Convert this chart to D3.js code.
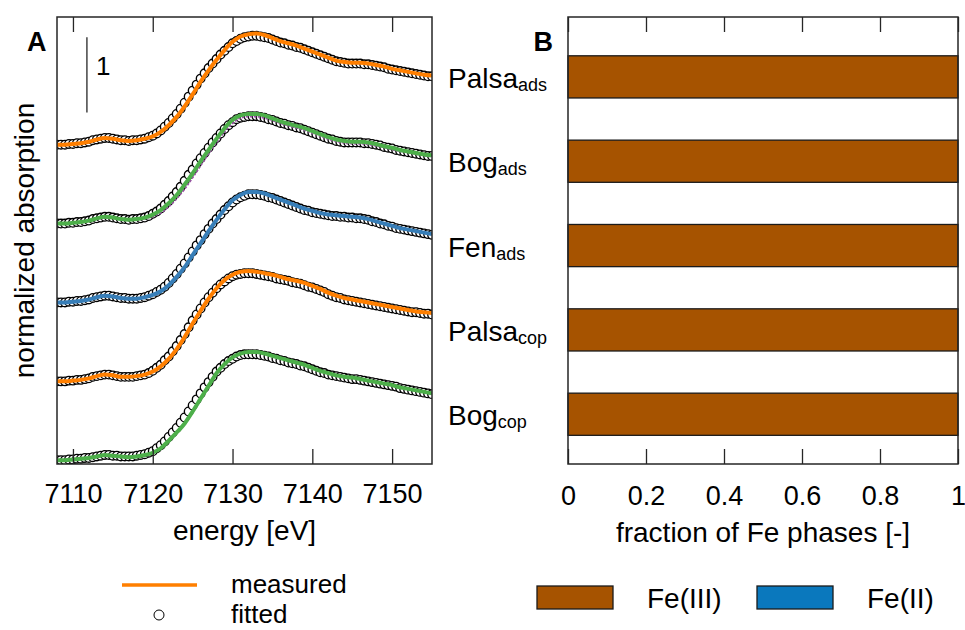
<!DOCTYPE html>
<html>
<head>
<meta charset="utf-8">
<script src="https://cdn.jsdelivr.net/npm/d3@7"></script>
<style>
  body { margin: 0; background: #fff; }
  svg { font-family: "Liberation Sans", Arial, sans-serif; }
</style>
</head>
<body>
<svg id="chart" width="965" height="630"></svg>
<script>
'use strict';
// XANES spectra (A) and Fe phase fractions (B)

// energy grids [eV]
const energyMeas = d3.range(7108, 7155.5, 1);
const energyFit = d3.range(7108, 7155.25, 0.5);
const energyTicks = [7110, 7120, 7130, 7140, 7150];

// sample names, top to bottom
const sampleNames = ['Palsa', 'Bog', 'Fen', 'Palsa', 'Bog'];
const sampleSubs = ['ads', 'ads', 'ads', 'cop', 'cop'];
const curveColors = ['#ff7f00', '#4daf4a', '#377eb8', '#ff7f00', '#4daf4a'];
const offsets = [4.2, 3.15, 2.1, 1.05, 0];

// measured spectra, 1 eV steps
const measPalsaAds = [0.00,0.00,0.01,0.02,0.04,0.07,0.09,0.08,0.06,0.05,
  0.06,0.08,0.11,0.17,0.26,0.37,0.51,0.67,0.84,0.99,
  1.13,1.26,1.37,1.44,1.47,1.48,1.46,1.42,1.38,1.35,
  1.32,1.28,1.24,1.20,1.16,1.12,1.10,1.09,1.09,1.08,
  1.06,1.04,1.01,0.99,0.97,0.95,0.93,0.92];
const measBogAds = [0.00,0.00,0.01,0.02,0.04,0.07,0.09,0.08,0.06,0.05,
  0.06,0.08,0.12,0.18,0.27,0.38,0.52,0.67,0.83,0.98,
  1.13,1.27,1.38,1.44,1.46,1.46,1.44,1.40,1.36,1.33,
  1.30,1.27,1.23,1.19,1.15,1.12,1.10,1.09,1.09,1.08,
  1.06,1.03,1.01,0.98,0.96,0.94,0.92,0.91];
const measFenAds = [0.00,0.00,0.01,0.02,0.04,0.07,0.09,0.08,0.06,0.05,
  0.05,0.07,0.10,0.15,0.23,0.34,0.47,0.63,0.79,0.95,
  1.10,1.24,1.36,1.43,1.47,1.47,1.45,1.41,1.37,1.33,
  1.29,1.25,1.22,1.19,1.17,1.16,1.15,1.14,1.13,1.11,
  1.08,1.05,1.02,0.99,0.97,0.95,0.93,0.91];
const measPalsaCop = [0.00,0.00,0.01,0.02,0.04,0.07,0.09,0.08,0.06,0.06,
  0.07,0.09,0.13,0.20,0.30,0.43,0.59,0.77,0.94,1.10,
  1.24,1.35,1.42,1.46,1.47,1.46,1.44,1.42,1.39,1.36,
  1.34,1.31,1.27,1.23,1.18,1.14,1.11,1.09,1.07,1.05,
  1.03,1.01,0.99,0.97,0.95,0.93,0.92,0.91];
const measBogCop = [0.00,0.00,0.01,0.02,0.03,0.05,0.07,0.06,0.05,0.04,
  0.05,0.07,0.10,0.16,0.26,0.37,0.49,0.65,0.82,0.99,
  1.16,1.28,1.37,1.42,1.44,1.44,1.42,1.39,1.36,1.33,
  1.30,1.27,1.23,1.19,1.16,1.13,1.11,1.10,1.08,1.06,
  1.04,1.02,1.00,0.97,0.95,0.93,0.91,0.89];
// second trace under Bog_ads (purple)
const refBogAds = [0.00,0.00,0.01,0.02,0.04,0.06,0.08,0.08,0.06,0.05,
  0.05,0.07,0.10,0.15,0.23,0.34,0.47,0.62,0.78,0.94,
  1.09,1.23,1.34,1.41,1.43,1.43,1.41,1.38,1.34,1.31,
  1.28,1.25,1.21,1.17,1.13,1.10,1.08,1.07,1.07,1.06,
  1.04,1.02,0.99,0.97,0.95,0.93,0.91,0.90];

// fitted spectra, 0.5 eV steps
const fitPalsaAds = [0.00,0.00,0.00,0.01,0.01,0.02,0.02,0.03,0.04,0.06,
  0.07,0.08,0.09,0.09,0.08,0.07,0.06,0.06,0.05,0.06,
  0.06,0.07,0.08,0.10,0.12,0.15,0.19,0.24,0.29,0.35,
  0.41,0.48,0.56,0.64,0.72,0.80,0.88,0.95,1.02,1.08,
  1.14,1.20,1.25,1.30,1.35,1.38,1.41,1.43,1.44,1.45,
  1.45,1.44,1.43,1.42,1.40,1.38,1.36,1.35,1.33,1.32,
  1.30,1.29,1.27,1.25,1.23,1.21,1.19,1.17,1.15,1.13,
  1.11,1.10,1.09,1.08,1.08,1.08,1.08,1.07,1.07,1.06,
  1.05,1.04,1.03,1.01,1.00,0.99,0.98,0.97,0.96,0.95,
  0.94,0.93,0.92,0.91,0.91];
const fitBogAds = [0.00,0.00,0.00,0.01,0.01,0.02,0.02,0.03,0.04,0.06,
  0.07,0.08,0.09,0.09,0.08,0.07,0.06,0.06,0.05,0.06,
  0.06,0.07,0.08,0.10,0.13,0.16,0.20,0.25,0.30,0.36,
  0.42,0.49,0.57,0.65,0.72,0.80,0.87,0.94,1.01,1.08,
  1.14,1.20,1.26,1.31,1.35,1.39,1.41,1.42,1.43,1.43,
  1.43,1.42,1.41,1.39,1.38,1.36,1.34,1.33,1.31,1.30,
  1.28,1.27,1.25,1.23,1.21,1.19,1.17,1.15,1.13,1.12,
  1.10,1.09,1.08,1.08,1.08,1.08,1.08,1.07,1.07,1.06,
  1.05,1.04,1.02,1.01,1.00,0.98,0.97,0.96,0.95,0.94,
  0.93,0.92,0.91,0.90,0.90];
const fitFenAds = [0.00,0.00,0.00,0.01,0.01,0.02,0.02,0.03,0.04,0.06,
  0.07,0.08,0.09,0.09,0.08,0.07,0.06,0.06,0.05,0.05,
  0.05,0.06,0.07,0.09,0.11,0.14,0.17,0.21,0.26,0.32,
  0.38,0.45,0.52,0.60,0.68,0.76,0.83,0.91,0.98,1.05,
  1.11,1.17,1.23,1.28,1.33,1.37,1.40,1.42,1.44,1.44,
  1.44,1.43,1.42,1.40,1.39,1.37,1.35,1.33,1.31,1.29,
  1.27,1.25,1.23,1.22,1.20,1.19,1.18,1.17,1.16,1.15,
  1.15,1.14,1.14,1.13,1.13,1.12,1.12,1.11,1.10,1.08,
  1.07,1.05,1.04,1.02,1.01,0.99,0.98,0.97,0.96,0.95,
  0.94,0.93,0.92,0.91,0.90];
const fitPalsaCop = [0.00,0.00,0.00,0.01,0.01,0.02,0.02,0.03,0.04,0.06,
  0.07,0.08,0.09,0.09,0.08,0.07,0.06,0.06,0.06,0.06,
  0.07,0.08,0.09,0.11,0.14,0.18,0.22,0.28,0.33,0.40,
  0.47,0.55,0.63,0.72,0.81,0.89,0.97,1.05,1.12,1.18,
  1.24,1.29,1.33,1.37,1.40,1.42,1.43,1.44,1.44,1.44,
  1.43,1.42,1.41,1.40,1.39,1.37,1.36,1.35,1.34,1.32,
  1.31,1.30,1.28,1.26,1.25,1.23,1.21,1.19,1.16,1.14,
  1.12,1.11,1.09,1.08,1.07,1.06,1.05,1.04,1.03,1.02,
  1.01,1.00,0.99,0.98,0.97,0.96,0.95,0.94,0.93,0.92,
  0.92,0.91,0.90,0.90,0.89];
const fitBogCop = [0.00,0.00,0.00,0.01,0.01,0.02,0.02,0.03,0.03,0.04,
  0.05,0.06,0.07,0.07,0.06,0.06,0.05,0.05,0.05,0.05,
  0.06,0.07,0.08,0.10,0.12,0.16,0.20,0.25,0.31,0.37,
  0.43,0.50,0.57,0.65,0.73,0.81,0.89,0.97,1.04,1.11,
  1.18,1.23,1.28,1.32,1.35,1.38,1.40,1.41,1.41,1.41,
  1.41,1.40,1.39,1.38,1.36,1.35,1.33,1.32,1.30,1.29,
  1.28,1.26,1.25,1.23,1.21,1.19,1.17,1.16,1.14,1.13,
  1.12,1.11,1.10,1.09,1.08,1.08,1.07,1.06,1.05,1.04,
  1.03,1.02,1.01,1.00,0.99,0.98,0.96,0.95,0.94,0.93,
  0.92,0.91,0.90,0.89,0.88];

const measured = [measPalsaAds, measBogAds, measFenAds, measPalsaCop, measBogCop];
const fitted = [fitPalsaAds, fitBogAds, fitFenAds, fitPalsaCop, fitBogCop];

// panel B: phase fractions
const fracFeIII = [1, 1, 1, 1, 1];
const fracFeII = [0, 0, 0, 0, 0];
const fracTicks = [0, 0.2, 0.4, 0.6, 0.8, 1];
const phaseNames = ['Fe(III)', 'Fe(II)'];
const phaseColors = ['#a65300', '#0a78bd'];

const svg = d3.select('#chart');
const axisColor = '#262626';

// ---------- panel A ----------
var ax = { left: 57, right: 432, top: 17, bottom: 464 };
var x = d3.scaleLinear().domain([7108, 7155]).range([ax.left, ax.right]);
var y = d3.scaleLinear().domain([-0.05, 5.9]).range([ax.bottom, ax.top]);

svg.append('clipPath').attr('id', 'clipA')
  .append('rect')
  .attr('x', ax.left).attr('y', ax.top)
  .attr('width', ax.right - ax.left).attr('height', ax.bottom - ax.top);

var plotA = svg.append('g').attr('clip-path', 'url(#clipA)');

var lineMeas = d3.line()
  .x(function(d, i) { return x(energyMeas[i]); })
  .curve(d3.curveMonotoneX);

measured.forEach(function(meas, k) {
  var off = offsets[k];
  var g = plotA.append('g');

  g.selectAll('circle')
    .data(fitted[k])
    .enter().append('circle')
    .attr('cx', function(d, i) { return x(energyFit[i]); })
    .attr('cy', function(d) { return y(d + off); })
    .attr('r', 4.3)
    .attr('fill', '#fff')
    .attr('stroke', '#000')
    .attr('stroke-width', 1.35);

  if (k === 1) {
    g.append('path')
      .datum(refBogAds)
      .attr('fill', 'none')
      .attr('stroke', '#984ea3')
      .attr('stroke-width', 2.5)
      .attr('stroke-dasharray', '2.5,1.5')
      .attr('d', lineMeas.y(function(d) { return y(d + off); }));
  }

  g.append('path')
    .datum(meas)
    .attr('fill', 'none')
    .attr('stroke', curveColors[k])
    .attr('stroke-width', 4)
    .attr('d', lineMeas.y(function(d) { return y(d + off); }));
});

// frame + inward ticks
svg.append('rect')
  .attr('x', ax.left).attr('y', ax.top)
  .attr('width', ax.right - ax.left).attr('height', ax.bottom - ax.top)
  .attr('fill', 'none').attr('stroke', axisColor).attr('stroke-width', 1.5);

svg.append('g')
  .attr('transform', 'translate(0,' + ax.bottom + ')')
  .call(d3.axisBottom(x).tickValues(energyTicks).tickSizeInner(-15).tickSizeOuter(0).tickPadding(20)
    .tickFormat(d3.format('d')))
  .call(function(g) {
    g.select('.domain').remove();
    g.selectAll('line').attr('stroke', axisColor).attr('stroke-width', 1.3);
    g.selectAll('text').attr('font-size', 27).attr('fill', '#000')
      .attr('font-family', '"Liberation Sans", Arial, sans-serif');
  });
svg.append('g')
  .attr('transform', 'translate(0,' + ax.top + ')')
  .call(d3.axisTop(x).tickValues(energyTicks).tickSizeInner(-15).tickSizeOuter(0).tickFormat(''))
  .call(function(g) {
    g.select('.domain').remove();
    g.selectAll('line').attr('stroke', axisColor).attr('stroke-width', 1.3);
  });

// scale bar "1"
svg.append('line')
  .attr('x1', x(7111.75)).attr('x2', x(7111.75))
  .attr('y1', y(4.63)).attr('y2', y(5.63))
  .attr('stroke', axisColor).attr('stroke-width', 1.3);
svg.append('text')
  .attr('x', x(7111.75) + 9).attr('y', 75)
  .attr('font-size', 26).text('1');

svg.append('text')
  .attr('x', 27).attr('y', 51)
  .attr('font-size', 27).attr('font-weight', 'bold').text('A');

svg.append('text')
  .attr('x', (ax.left + ax.right) / 2).attr('y', 540)
  .attr('text-anchor', 'middle').attr('font-size', 28)
  .text('energy [eV]');

svg.append('text')
  .attr('transform', 'translate(34,' + (ax.top + ax.bottom) / 2 + ') rotate(-90)')
  .attr('text-anchor', 'middle').attr('font-size', 28)
  .text('normalized absorption');

// legend A
svg.append('line')
  .attr('x1', 122).attr('x2', 197).attr('y1', 585).attr('y2', 585)
  .attr('stroke', curveColors[0]).attr('stroke-width', 3.5);
svg.append('text').attr('x', 231).attr('y', 593).attr('font-size', 26).text('measured');
svg.append('circle').attr('cx', 159).attr('cy', 615).attr('r', 5)
  .attr('fill', 'none').attr('stroke', '#000').attr('stroke-width', 1);
svg.append('text').attr('x', 231).attr('y', 623).attr('font-size', 26).text('fitted');

// ---------- panel B ----------
var bx = { left: 568, right: 958, top: 17, bottom: 464 };
var xb = d3.scaleLinear().domain([0, 1]).range([bx.left, bx.right]);
var yb = d3.scaleLinear().domain([0.29, 5.59]).range([bx.top, bx.bottom]);
var barH = 0.5;

var stacked = sampleNames.map(function(n, i) {
  return [
    { x0: 0, x1: fracFeIII[i], c: phaseColors[0], i: i },
    { x0: fracFeIII[i], x1: fracFeIII[i] + fracFeII[i], c: phaseColors[1], i: i }
  ];
});

svg.append('g').selectAll('rect')
  .data(stacked.flat().filter(function(d) { return d.x1 > d.x0; }))
  .enter().append('rect')
  .attr('x', function(d) { return xb(d.x0); })
  .attr('width', function(d) { return xb(d.x1) - xb(d.x0); })
  .attr('y', function(d) { return yb(d.i + 1 - barH / 2); })
  .attr('height', function(d) { return yb(d.i + 1 + barH / 2) - yb(d.i + 1 - barH / 2); })
  .attr('fill', function(d) { return d.c; })
  .attr('stroke', '#1a1a1a').attr('stroke-width', 1.3);

svg.append('rect')
  .attr('x', bx.left).attr('y', bx.top)
  .attr('width', bx.right - bx.left).attr('height', bx.bottom - bx.top)
  .attr('fill', 'none').attr('stroke', axisColor).attr('stroke-width', 1.5);

svg.append('g')
  .attr('transform', 'translate(0,' + bx.bottom + ')')
  .call(d3.axisBottom(xb).tickValues(fracTicks).tickSizeInner(-15).tickSizeOuter(0).tickPadding(22)
    .tickFormat(function(d) { return d === 0 || d === 1 ? d3.format('d')(d) : d3.format('.1f')(d); }))
  .call(function(g) {
    g.select('.domain').remove();
    g.selectAll('line').attr('stroke', axisColor).attr('stroke-width', 1.3);
    g.selectAll('text').attr('font-size', 27).attr('fill', '#000')
      .attr('font-family', '"Liberation Sans", Arial, sans-serif');
  });
svg.append('g')
  .attr('transform', 'translate(0,' + bx.top + ')')
  .call(d3.axisTop(xb).tickValues(fracTicks).tickSizeInner(-15).tickSizeOuter(0).tickFormat(''))
  .call(function(g) {
    g.select('.domain').remove();
    g.selectAll('line').attr('stroke', axisColor).attr('stroke-width', 1.3);
  });

// sample labels with subscripts
var labels = svg.append('g').selectAll('text')
  .data(sampleNames)
  .enter().append('text')
  .attr('x', 448)
  .attr('y', function(d, i) { return yb(i + 1) + 11; })
  .attr('font-size', 28);
labels.append('tspan').text(function(d) { return d; });
labels.append('tspan')
  .attr('font-size', 18).attr('dy', 3)
  .text(function(d, i) { return sampleSubs[i]; });

svg.append('text')
  .attr('x', 553).attr('y', 51)
  .attr('text-anchor', 'end')
  .attr('font-size', 27).attr('font-weight', 'bold').text('B');

svg.append('text')
  .attr('x', (bx.left + bx.right) / 2).attr('y', 542)
  .attr('text-anchor', 'middle').attr('font-size', 28)
  .text('fraction of Fe phases [-]');

// legend B
var legB = svg.append('g').selectAll('g')
  .data(phaseNames)
  .enter().append('g')
  .attr('transform', function(d, i) { return 'translate(' + (537 + i * 220) + ',586)'; });
legB.append('rect')
  .attr('width', 76).attr('height', 23)
  .attr('fill', function(d, i) { return phaseColors[i]; })
  .attr('stroke', '#1a1a1a').attr('stroke-width', 1.3);
legB.append('text')
  .attr('x', 110).attr('y', 22)
  .attr('font-size', 28)
  .text(function(d) { return d; });
</script>
</body>
</html>
